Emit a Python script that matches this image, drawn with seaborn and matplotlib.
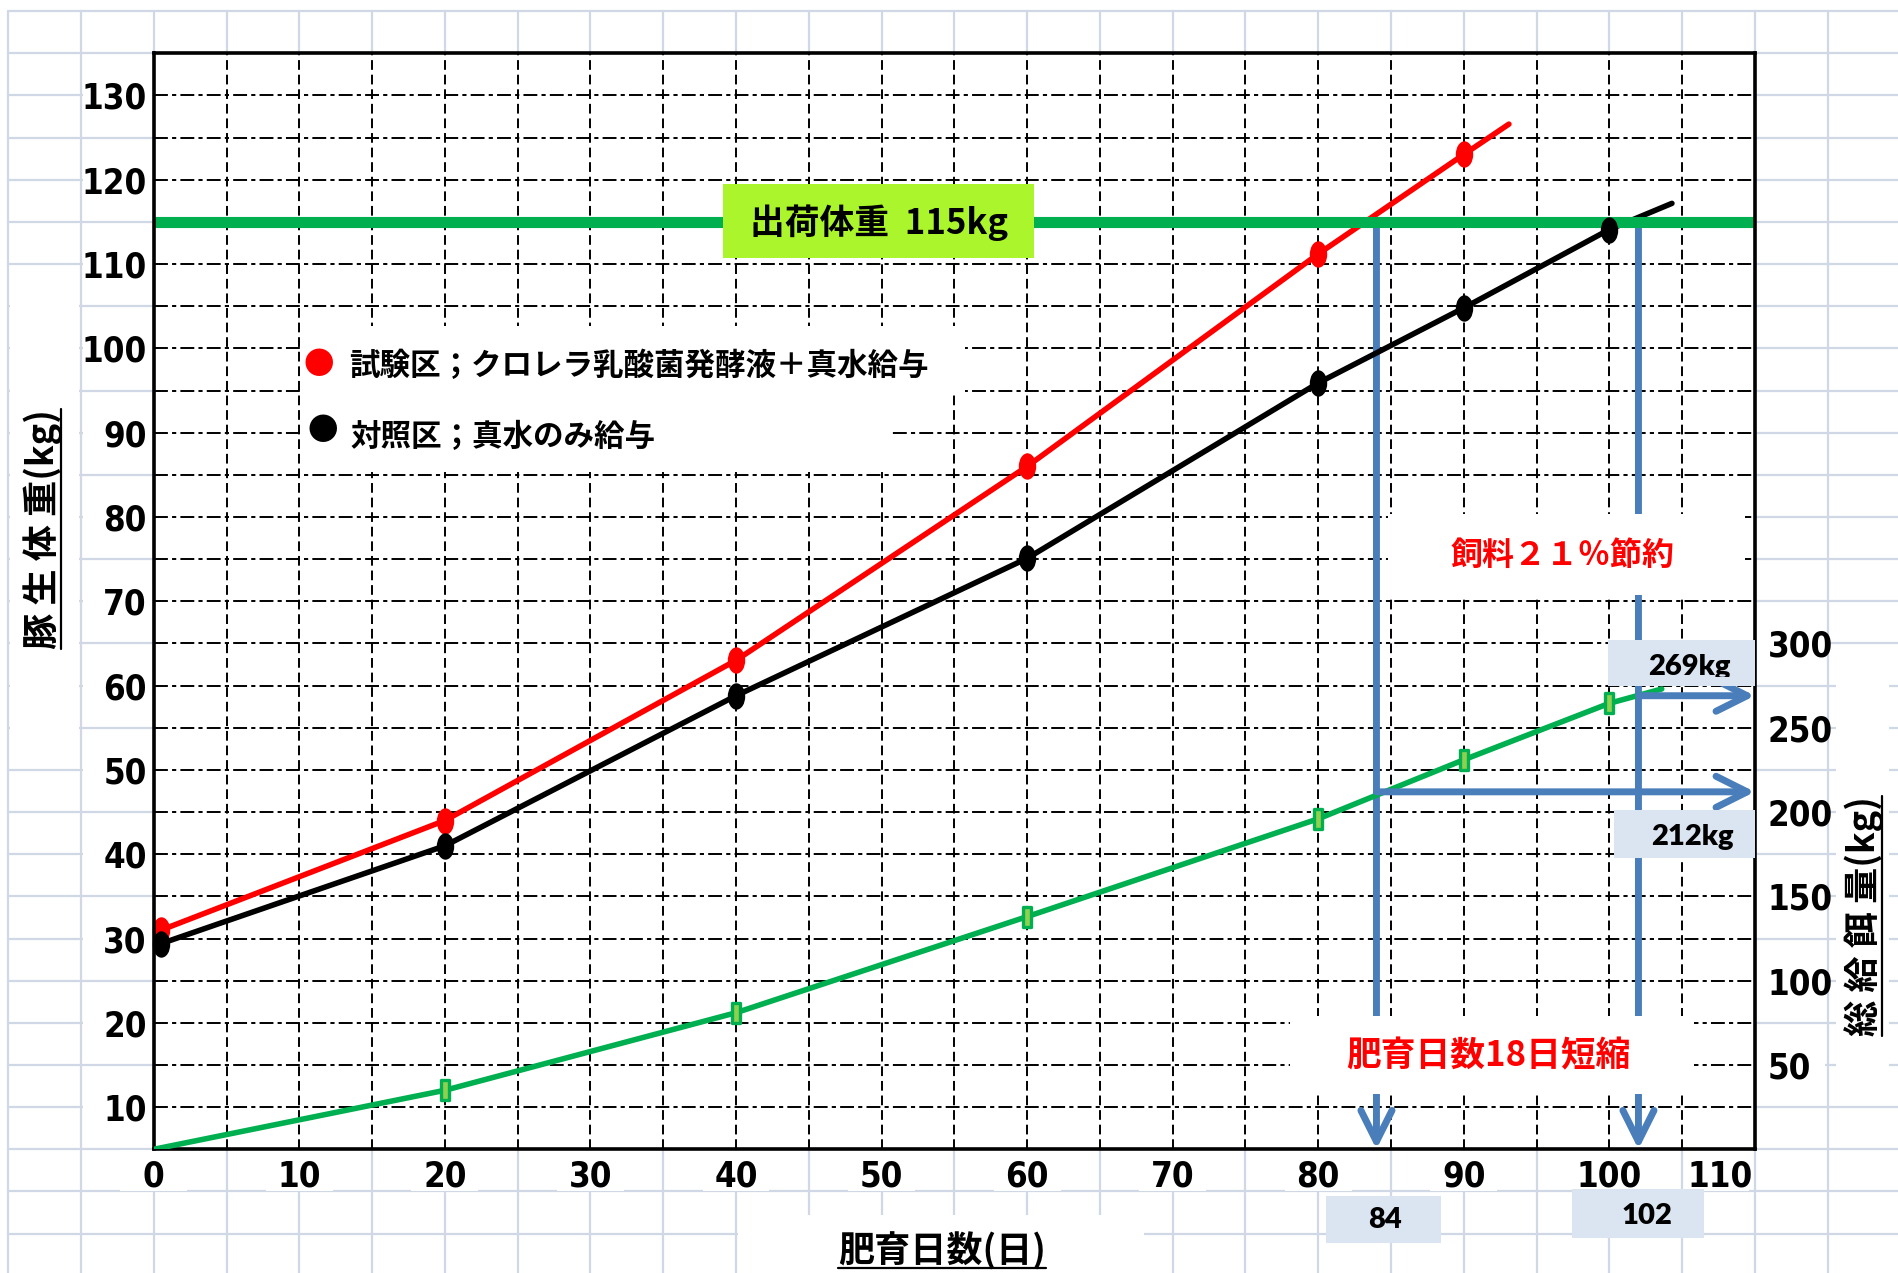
import numpy as np
import pandas as pd
import matplotlib
matplotlib.use("Agg")
import matplotlib.pyplot as plt
import matplotlib.transforms as mtransforms
import seaborn as sns
from matplotlib import font_manager
from matplotlib.font_manager import FontProperties
from matplotlib.lines import Line2D
from matplotlib.patches import FancyArrowPatch, Rectangle
from matplotlib.path import Path

# ---------------- data ----------------
# live weight of the pigs (kg) by fattening day
days_test = [0.5, 20, 40, 60, 80, 90]
weight_test = [31.0, 44.0, 63.0, 86.0, 111.2, 123.0]
days_ctrl = [0.5, 20, 40, 60, 80, 90, 100]
weight_ctrl = [29.4, 41.0, 58.8, 75.1, 95.9, 104.8, 114.1]
# cumulative feed intake (kg)
days_feed = [0, 20, 40, 60, 80, 90, 100]
feed_total = [0, 35, 81, 138, 196, 231, 264.5]
# end points of the extended trend lines
trend_end_test = [93.1, 126.6]
trend_end_ctrl = [104.3, 117.2]
trend_end_feed = [103.6, 273.0]

ship_weight = 115      # shipping weight (kg)
ship_day_test = 84     # day the test group reaches shipping weight
ship_day_ctrl = 102    # day the control group reaches shipping weight
feed_ship_test = 212   # feed used up to shipping (kg)
feed_ship_ctrl = 269

x_ticks = list(range(0, 111, 10))
y_ticks = list(range(10, 131, 10))
y2_ticks = list(range(50, 301, 50))

legend_test = "試験区；クロレラ乳酸菌発酵液＋真水給与"
legend_ctrl = "対照区；真水のみ給与"
xlabel_text = "肥育日数(日)"
ylabel_text = "豚 生 体 重(kg)"
y2label_text = "総 給 餌 量(kg)"

# ---------------- style ----------------
RED = "#FF0000"
GREEN = "#00B050"
BLUE = "#4A7EBB"
BOX = "#DBE5F1"
LIME = "#AAF52B"
PAPER = "#D0D7E5"

sns.set_theme(style="white")
plt.rcParams["font.family"] = ["Noto Sans CJK JP", "DejaVu Sans"]
plt.rcParams["lines.scale_dashes"] = False
for key in ("text.color", "axes.labelcolor", "xtick.color", "ytick.color"):
    plt.rcParams[key] = "black"

available = {f.name for f in font_manager.fontManager.ttflist}


def narrow_bold_font(size):
    """A condensed bold Latin face for the axis numbers, if one is installed."""
    best = None
    for f in font_manager.fontManager.ttflist:
        name = f.name
        if "CJK" in name or "Mono" in name or "Serif" in name:
            continue
        stretch = str(f.stretch).lower()
        narrow = ("Narrow" in name or "Condensed" in name or "Cond" in f.fname
                  or stretch in ("condensed", "semi-condensed", "extra-condensed"))
        if not narrow:
            continue
        w = f.weight if isinstance(f.weight, int) else {"bold": 700, "normal": 400}.get(str(f.weight), 400)
        score = abs(w - 700)
        if "italic" in str(f.style).lower() or "oblique" in str(f.style).lower():
            score += 1000
        if best is None or score < best[0]:
            best = (score, f.fname)
    if best is not None and best[0] < 1000:
        return FontProperties(fname=best[1], size=size)
    fam = "Liberation Sans Narrow" if "Liberation Sans Narrow" in available else "Liberation Sans"
    return FontProperties(family=[fam, "DejaVu Sans"], weight="bold", size=size)


fp_tick = narrow_bold_font(25)
box_family = "Lato" if "Lato" in available else "Liberation Sans"
fp_box = FontProperties(family=[box_family, "DejaVu Sans"], weight="heavy", size=21)
JP = ["Noto Sans CJK JP", "DejaVu Sans"]

# ---------------- layout ----------------
W, H, DPI = 1899, 1273, 100
AX_L, AX_R, AX_T, AX_B = 153.8, 1754.9, 53.3, 1149.3
X0, X1 = 0, 110
Y0, Y1 = 5, 135
Y2_0, Y2_1 = 0, 650
ppx = (AX_R - AX_L) / (X1 - X0)
ppy = (AX_B - AX_T) / (Y1 - Y0)

fig = plt.figure(figsize=(W / DPI, H / DPI), dpi=DPI, facecolor="white")

# graph-paper background aligned with the chart grid
bg = fig.add_axes([0, 0, 1, 1], zorder=0)
bg.set_xlim(X0 - AX_L / ppx, X1 + (W - AX_R) / ppx)
bg.set_ylim(Y0 - (H - AX_B) / ppy, Y1 + AX_T / ppy)
bg.axis("off")
for d in range(-10, 121, 5):
    bg.plot([d, d], [-20, 140], color=PAPER, lw=1.6, zorder=1)
for k in range(-5, 141, 5):
    bg.plot([-10, 130], [k, k], color=PAPER, lw=1.6, zorder=1)


def bg_rect(x, y, w, h, fc="white", z=2):
    bg.add_patch(Rectangle((x, y), w, h, facecolor=fc, edgecolor="none", zorder=z))


bg_rect(-9.85, 51, 4.7, 57)        # behind left axis title
bg_rect(40.15, -20, 27.85, 17.2)   # behind bottom axis title
bg_rect(115.6, 12, 3.6, 50)        # behind right axis title
for v in y_ticks:
    bg_rect(-4.85, v - 2.3, 4.85, 4.6)
for r in y2_ticks:
    k = Y0 + r * (Y1 - Y0) / (Y2_1 - Y2_0)
    bg_rect(X1, k - 2.3, 4.85, 4.6)
for t in x_ticks[:-1]:
    bg_rect(t - 2.3, 0.1, 4.6, 4.8)
bg_rect(x_ticks[-1] - 4.4, 0.1, 4.0, 4.8)

# ---------------- main axes ----------------
ax = fig.add_axes([AX_L / W, 1 - AX_B / H, (AX_R - AX_L) / W, (AX_B - AX_T) / H], zorder=1)
ax.set_facecolor("white")
ax.set_xlim(X0, X1)
ax.set_ylim(Y0, Y1)
ax.set_axisbelow(True)

ax.set_xticks(x_ticks[:-1], labels=[str(t) for t in x_ticks[:-1]], fontproperties=fp_tick)
ax.set_yticks(y_ticks, labels=[str(v) for v in y_ticks], fontproperties=fp_tick)
ax.set_xticks(list(range(X0, X1 + 1, 5)), minor=True)
ax.set_yticks(list(range(Y0, Y1 + 1, 5)), minor=True)
ax.tick_params(which="both", length=0)
ax.tick_params(axis="x", pad=7)
ax.tick_params(axis="y", pad=5)
ax.grid(which="both", axis="x", color="black", lw=1.4, linestyle=(0, (7, 3.5)))
ax.grid(which="both", axis="y", color="black", lw=1.4, linestyle=(0, (10, 3, 3, 3)))
for s in ax.spines.values():
    s.set_visible(True)
    s.set_color("black")
    s.set_linewidth(2.6)
    s.set_zorder(10)

# last x tick label sits just inside the right edge
ax.annotate(str(x_ticks[-1]), xy=(x_ticks[-1], 0), xycoords=("data", "axes fraction"),
            xytext=(-25, -7), textcoords="offset points", ha="center", va="top",
            fontproperties=fp_tick, annotation_clip=False)

# weight curves
oval = Path(Path.unit_circle().vertices * np.array([0.66, 1.0]), Path.unit_circle().codes)
bar = Path([(-0.2, -0.5), (0.2, -0.5), (0.2, 0.5), (-0.2, 0.5), (-0.2, -0.5)],
           [Path.MOVETO, Path.LINETO, Path.LINETO, Path.LINETO, Path.CLOSEPOLY])

df_test = pd.DataFrame({"day": days_test + [trend_end_test[0]], "kg": weight_test + [trend_end_test[1]]})
df_ctrl = pd.DataFrame({"day": days_ctrl + [trend_end_ctrl[0]], "kg": weight_ctrl + [trend_end_ctrl[1]]})
sns.lineplot(data=df_test, x="day", y="kg", ax=ax, color=RED, linewidth=4.0,
             sort=False, estimator=None, zorder=3, legend=False)
sns.lineplot(data=df_ctrl, x="day", y="kg", ax=ax, color="black", linewidth=4.0,
             sort=False, estimator=None, zorder=3, legend=False)
sns.scatterplot(x=days_test, y=weight_test, ax=ax, marker=oval, s=19 ** 2, color=RED,
                edgecolor=RED, linewidth=0, zorder=4, legend=False, clip_on=False)
sns.scatterplot(x=days_ctrl, y=weight_ctrl, ax=ax, marker=oval, s=19 ** 2, color="black",
                edgecolor="black", linewidth=0, zorder=4, legend=False, clip_on=False)

# shipping weight line and its label
ax.axhline(ship_weight, color=GREEN, lw=8, zorder=3)
ax.add_patch(Rectangle((39.1, 110.7), 21.4, 8.8, facecolor=LIME, edgecolor="none", zorder=5))
ax.text(49.8, 114.9, f"出荷体重  {ship_weight}kg", family=JP, weight="bold", fontsize=25,
        ha="center", va="center", zorder=6)

# blue guides down to the shipping day
arrow_kw = dict(arrowstyle="->,head_length=0.7,head_width=0.35", mutation_scale=32,
                color=BLUE, lw=5, shrinkA=0, shrinkB=0, clip_on=False,
                capstyle="round", joinstyle="round")
for d in (ship_day_test, ship_day_ctrl):
    ax.add_patch(FancyArrowPatch((d, ship_weight), (d, Y0), zorder=2.6, **arrow_kw))

# white text boxes inside the plot
for x, y, w, h in [(10.2, 94.8, 45.5, 7.8), (10.2, 85.3, 40.3, 9.5),
                   (84.8, 70.7, 24.5, 9.6), (78.05, 11.6, 27.75, 9.2)]:
    ax.add_patch(Rectangle((x, y), w, h, facecolor="white", edgecolor="none", zorder=4.5))

ax.text(11.3, 98.0, "●", color=RED, family=JP, fontsize=22, ha="center", va="center", zorder=6)
ax.text(13.4, 97.9, legend_test, family=JP, weight="bold", fontsize=22, ha="left", va="center", zorder=6)
ax.text(11.6, 90.1, "●", color="black", family=JP, fontsize=22, ha="center", va="center", zorder=6)
ax.text(13.5, 89.5, legend_ctrl, family=JP, weight="bold", fontsize=22, ha="left", va="center", zorder=6)

to_wide = str.maketrans("0123456789%", "０１２３４５６７８９％")
saving = round(100 * (feed_ship_ctrl - feed_ship_test) / feed_ship_ctrl)
ax.text(96.8, 75.4, f"飼料{saving}%節約".translate(to_wide), color=RED, family=JP,
        weight="bold", fontsize=23, ha="center", va="center", zorder=6)
ax.text(91.7, 16.1, f"肥育日数{ship_day_ctrl - ship_day_test}日短縮", color=RED, family=JP,
        weight="bold", fontsize=25, ha="center", va="center", zorder=6)

ax.set_xlabel("")
ax.set_ylabel("")

# ---------------- feed axis ----------------
ax2 = ax.twinx()
ax2.set_zorder(2)
ax2.patch.set_visible(False)
ax2.set_ylim(Y2_0, Y2_1)
ax2.set_yticks(y2_ticks, labels=[str(v) for v in y2_ticks], fontproperties=fp_tick)
ax2.tick_params(which="both", length=0, pad=9)
ax2.grid(False)
for s in ax2.spines.values():
    s.set_visible(False)

df_feed = pd.DataFrame({"day": days_feed + [trend_end_feed[0]], "feed": feed_total + [trend_end_feed[1]]})
sns.lineplot(data=df_feed, x="day", y="feed", ax=ax2, color=GREEN, linewidth=4.0,
             sort=False, estimator=None, zorder=3, legend=False)
sns.scatterplot(x=days_feed[1:], y=feed_total[1:], ax=ax2, marker=bar, s=14 ** 2,
                color="#8FD14F", edgecolor=GREEN, linewidth=2.4, zorder=4, legend=False)

for d, f in ((ship_day_test, feed_ship_test), (ship_day_ctrl, feed_ship_ctrl)):
    ax2.add_patch(FancyArrowPatch((d, f), (X1, f), zorder=3.5, **arrow_kw))

ax2.add_patch(Rectangle((99.9, 274.8), 10.1, 27.3, facecolor=BOX, edgecolor="none", zorder=5))
ax2.add_patch(Rectangle((100.3, 172.8), 9.7, 28.5, facecolor=BOX, edgecolor="none", zorder=5))
t269 = ax2.text(105.5, 281.0, f"{feed_ship_ctrl}kg", fontproperties=fp_box,
                ha="center", va="baseline", zorder=6)
t269.set_clip_path(Rectangle((99.9, 280.2), 10.1, 22.0, transform=ax2.transData))
t269.set_clip_on(True)
ax2.text(105.7, 185.0, f"{feed_ship_test}kg", fontproperties=fp_box,
         ha="center", va="center", zorder=6)
ax2.set_xlabel("")
ax2.set_ylabel("")

# day boxes under the x axis
bg_rect(80.5, -6.1, 7.9, 5.56, fc=BOX, z=3)
bg_rect(97.4, -5.5, 9.1, 5.77, fc=BOX, z=3)
bg.text(84.6, -3.4, f"{ship_day_test}", fontproperties=fp_box, ha="center", va="center", zorder=4)
bg.text(102.6, -2.9, f"{ship_day_ctrl}", fontproperties=fp_box, ha="center", va="center", zorder=4)

# ---------------- axis titles (underlined) ----------------
t_x = fig.text(942 / W, 1 - 1251 / H, xlabel_text, family=JP, weight="bold", fontsize=26,
               ha="center", va="center")
t_y = fig.text(43 / W, 1 - 529 / H, ylabel_text, family=JP, weight="bold", fontsize=26,
               ha="center", va="center", rotation=90)
t_y2 = fig.text(1864 / W, 1 - 916 / H, y2label_text, family=JP, weight="bold", fontsize=26,
                ha="center", va="center", rotation=90)

fig.canvas.draw()
renderer = fig.canvas.get_renderer()
ident = mtransforms.IdentityTransform()
bb = t_x.get_window_extent(renderer)
fig.add_artist(Line2D([bb.x0, bb.x1], [bb.y0 + 2, bb.y0 + 2], color="black", lw=1.6, transform=ident))
for t in (t_y, t_y2):
    bb = t.get_window_extent(renderer)
    fig.add_artist(Line2D([bb.x1 - 2, bb.x1 - 2], [bb.y0, bb.y1], color="black", lw=1.6, transform=ident))

fig.savefig("out.png", dpi=DPI, facecolor="white")
